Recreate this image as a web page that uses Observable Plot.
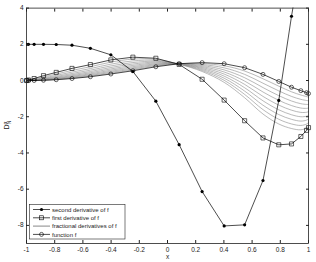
<!DOCTYPE html>
<html><head><meta charset="utf-8">
<script src="https://cdn.jsdelivr.net/npm/d3@7"></script>
<script src="https://cdn.jsdelivr.net/npm/@observablehq/plot@0.6"></script>
<style>body{margin:0;background:#fff} svg{display:block}</style>
</head><body><div id="chart"></div>
<script>
// Chebyshev nodes (N = 19)
const xNodes = [-1, -0.98636, -0.94582, -0.87947, -0.78914, -0.67728, -0.54695, -0.40170, -0.24549, -0.08258,
                0.08258, 0.24549, 0.40170, 0.54695, 0.67728, 0.78914, 0.87947, 0.94582, 0.98636, 1];
const fValues = [0, 0, 0.003, 0.015, 0.045, 0.11, 0.21, 0.36, 0.54, 0.76, 0.93, 0.99, 0.93, 0.71, 0.34, -0.05, -0.37, -0.56, -0.67, -0.72];
const firstDeriv = [0, 0.03, 0.11, 0.27, 0.45, 0.67, 0.88, 1.14, 1.29, 1.23, 0.89, 0.07, -1.08, -2.22, -3.17, -3.55, -3.5, -3.09, -2.75, -2.6];
const secondDeriv = [2.0, 2.0, 2.0, 2.0, 1.99, 1.95, 1.78, 1.42, 0.5, -1.14, -3.54, -6.13, -8.03, -7.97, -5.52, -1.1, 3.55, 6.6, 8.0, 8.4];

// fractional derivatives, alpha = 0.1 ... 0.9
const frac01 = [0, 0.001, 0.0043, 0.020, 0.057, 0.132, 0.242, 0.404, 0.589, 0.797, 0.93, 0.936, 0.816, 0.526, 0.097, -0.311, -0.623, -0.8, -0.887, -0.92];
const frac02 = [0, 0.002, 0.0062, 0.027, 0.071, 0.158, 0.280, 0.453, 0.643, 0.837, 0.93, 0.881, 0.701, 0.341, -0.147, -0.572, -0.877, -1.04, -1.103, -1.12];
const frac03 = [0, 0.003, 0.0089, 0.036, 0.090, 0.189, 0.323, 0.509, 0.701, 0.878, 0.93, 0.827, 0.587, 0.157, -0.39, -0.833, -1.13, -1.28, -1.32, -1.32];
const frac04 = [0, 0.005, 0.0127, 0.048, 0.113, 0.227, 0.372, 0.571, 0.765, 0.921, 0.925, 0.772, 0.472, -0.028, -0.633, -1.094, -1.383, -1.52, -1.537, -1.52];
const frac05 = [0, 0.007, 0.0182, 0.064, 0.142, 0.271, 0.430, 0.641, 0.835, 0.967, 0.92, 0.718, 0.358, -0.212, -0.877, -1.356, -1.637, -1.76, -1.753, -1.72];
const frac06 = [0, 0.01, 0.026, 0.085, 0.179, 0.325, 0.496, 0.719, 0.911, 1.014, 0.915, 0.663, 0.243, -0.397, -1.12, -1.617, -1.89, -2.0, -1.97, -1.92];
const frac07 = [0, 0.013, 0.037, 0.113, 0.226, 0.389, 0.572, 0.806, 0.993, 1.064, 0.91, 0.609, 0.129, -0.581, -1.363, -1.878, -2.143, -2.24, -2.187, -2.12];
const frac08 = [0, 0.018, 0.053, 0.151, 0.284, 0.466, 0.660, 0.905, 1.084, 1.117, 0.905, 0.554, 0.014, -0.766, -1.607, -2.139, -2.397, -2.48, -2.403, -2.32];
const frac09 = [0, 0.024, 0.077, 0.202, 0.357, 0.559, 0.762, 1.015, 1.182, 1.172, 0.90, 0.5, -0.1, -0.95, -1.85, -2.4, -2.65, -2.72, -2.62, -2.52];
const fracAlphas = [0.1, 0.2, 0.3, 0.4, 0.5, 0.6, 0.7, 0.8, 0.9];

const xTicks = [-1, -0.8, -0.6, -0.4, -0.2, 0, 0.2, 0.4, 0.6, 0.8, 1];
const yTicks = [-8, -6, -4, -2, 0, 2, 4];
const xLabel = "x";
const legendLabels = ["second derivative of f", "first derivative of f", "fractional derivatives of f", "function f"];

const fracSeries = [frac01, frac02, frac03, frac04, frac05, frac06, frac07, frac08, frac09];
const fracRows = fracSeries.flatMap((vals, i) => vals.map((y, j) => ({x: xNodes[j], y, alpha: fracAlphas[i]})));
const fRows = xNodes.map((x, i) => ({x, y: fValues[i]}));
const d1Rows = xNodes.map((x, i) => ({x, y: firstDeriv[i]}));
const d2Rows = xNodes.map((x, i) => ({x, y: secondDeriv[i]}));

const gray = "#8a8a8a";
const plot = Plot.plot({
  width: 316, height: 262,
  marginLeft: 26, marginRight: 8, marginTop: 7.6, marginBottom: 19,
  x: {domain: [-1, 1]},
  y: {domain: [-9, 4]},
  style: {fontFamily: "'Liberation Sans', Arial, sans-serif", fontSize: "6.5px", color: "#222", background: "white"},
  marks: [
    Plot.line(fracRows, {x: "x", y: "y", z: "alpha", stroke: gray, strokeWidth: 0.6, curve: "catmull-rom"}),
    Plot.line(d2Rows, {x: "x", y: "y", stroke: "black", strokeWidth: 0.7, clip: true}),
    Plot.dot(d2Rows, {x: "x", y: "y", r: 1.6, fill: "black", clip: true}),
    Plot.line(d1Rows, {x: "x", y: "y", stroke: "black", strokeWidth: 0.7}),
    Plot.dot(d1Rows, {x: "x", y: "y", symbol: "square", r: 2.3, stroke: "black", fill: "none", strokeWidth: 0.6}),
    Plot.line(fRows, {x: "x", y: "y", stroke: "black", strokeWidth: 0.7}),
    Plot.dot(fRows, {x: "x", y: "y", symbol: "circle", r: 2, stroke: "black", fill: "none", strokeWidth: 0.6}),
    Plot.frame({stroke: "#222", strokeWidth: 0.8}),
    Plot.axisX({ticks: xTicks, anchor: "bottom", tickSize: -3, tickPadding: 6.5, tickFormat: d => String(d), label: null}),
    Plot.axisX({ticks: xTicks, anchor: "top", tickSize: -3, tickFormat: () => "", label: null}),
    Plot.axisY({ticks: yTicks, anchor: "left", tickSize: -3, tickPadding: 6, tickFormat: d => String(d), label: null}),
    Plot.axisY({ticks: yTicks, anchor: "right", tickSize: -3, tickFormat: () => "", label: null})
  ]
});
document.getElementById("chart").appendChild(plot);

const svg = d3.select(plot);
const font = "'Liberation Sans', Arial, sans-serif";
// x label
svg.append("text").attr("x", 167.5).attr("y", 259).attr("text-anchor", "middle")
  .attr("font-family", font).attr("font-size", 6.5).attr("fill", "#222").text(xLabel);
// y label D_N^alpha
const yl = svg.append("text").attr("transform", "translate(9,125) rotate(-90)").attr("text-anchor", "middle")
  .attr("font-family", font).attr("font-size", 7).attr("fill", "#222");
yl.append("tspan").text("D");
yl.append("tspan").attr("font-size", 5).attr("dy", -2.5).text("α");
yl.append("tspan").attr("font-size", 5).attr("dx", -2.6).attr("dy", 4.5).text("N");

// legend
const lg = svg.append("g").attr("font-family", font).attr("font-size", 6).attr("fill", "#222").attr("text-anchor", "start");
lg.append("rect").attr("x", 29.5).attr("y", 204.5).attr("width", 95.5).attr("height", 34.5)
  .attr("fill", "white").attr("stroke", "#222").attr("stroke-width", 0.6);
const rowsY = [209.5, 217.8, 226.1, 234.4];
legendLabels.forEach((label, i) => {
  const y = rowsY[i];
  lg.append("line").attr("x1", 33).attr("x2", 50).attr("y1", y).attr("y2", y)
    .attr("stroke", i === 2 ? "#555" : "black").attr("stroke-width", 0.7);
  if (i === 0) lg.append("circle").attr("cx", 41.5).attr("cy", y).attr("r", 1.6).attr("fill", "black");
  if (i === 1) lg.append("rect").attr("x", 39.5).attr("y", y - 2).attr("width", 4).attr("height", 4)
    .attr("fill", "none").attr("stroke", "black").attr("stroke-width", 0.6);
  if (i === 3) lg.append("circle").attr("cx", 41.5).attr("cy", y).attr("r", 2)
    .attr("fill", "none").attr("stroke", "black").attr("stroke-width", 0.6);
  lg.append("text").attr("x", 52).attr("y", y).attr("dy", "0.35em").attr("text-anchor", "start").text(label);
});
</script>
</body></html>
